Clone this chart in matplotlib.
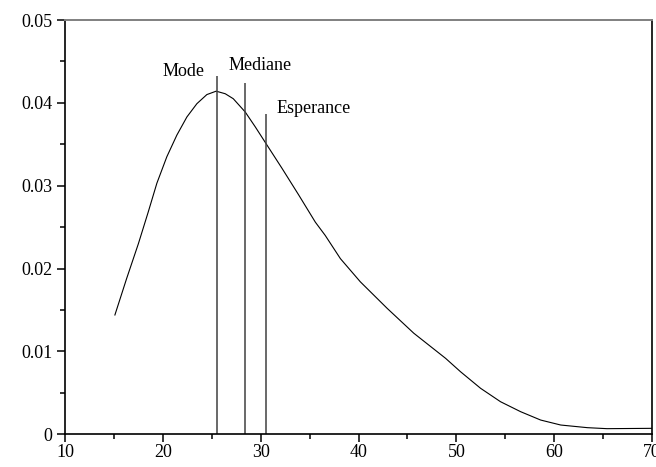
import matplotlib
matplotlib.use("Agg")
import matplotlib.pyplot as plt
from matplotlib.ticker import MultipleLocator

# density curve (x, f(x))
x_vals = [15.1, 16.3, 17.5, 18.5, 19.39, 20.41, 21.43, 22.46, 23.48, 24.5,
          25.45, 26.38, 27.2, 28.42, 29.45, 30.54, 32.18, 33.88, 35.59, 36.6,
          38.15, 40.19, 42.93, 45.65, 48.9, 50.43, 52.48, 54.52, 56.57, 58.62,
          60.67, 63.4, 65.4, 70.0]
y_vals = [0.0144, 0.0188, 0.0230, 0.0268, 0.0303, 0.0335, 0.0361, 0.0383,
          0.0399, 0.0410, 0.04141, 0.0411, 0.0405, 0.0389, 0.0371, 0.0351,
          0.0321, 0.0289, 0.0256, 0.0240, 0.0212, 0.0184, 0.0152, 0.0122,
          0.00917, 0.00755, 0.00555, 0.00393, 0.00273, 0.00172, 0.00112,
          0.0008, 0.00068, 0.00072]

# position indicators: name, x, height of the marker line
stat_names = ["Mode", "Mediane", "Esperance"]
stat_x = [25.5, 28.4, 30.54]
stat_top = [0.0432, 0.0424, 0.0387]
label_xy = [(20.0, 0.0433), (26.75, 0.0440), (31.6, 0.0388)]

plt.rcParams["font.family"] = ["Liberation Serif", "DejaVu Serif"]
plt.rcParams["font.size"] = 13

fig = plt.figure(figsize=(6.56, 4.67), dpi=100)
ax = fig.add_axes([65 / 656, 1 - 434.3 / 467, (652 - 65) / 656, (434.3 - 20) / 467])

ax.plot(x_vals, y_vals, color="black", linewidth=0.8)
ax.vlines(stat_x, 0, stat_top, color="#404040", linewidth=1.1)
for name, (tx, ty) in zip(stat_names, label_xy):
    ax.text(tx, ty, name, ha="left", va="baseline", fontsize=13)

ax.set_xlim(10, 70)
ax.set_ylim(0, 0.05)
ax.xaxis.set_major_locator(MultipleLocator(10))
ax.xaxis.set_minor_locator(MultipleLocator(5))
ax.yaxis.set_major_locator(MultipleLocator(0.01))
ax.yaxis.set_minor_locator(MultipleLocator(0.005))
ax.yaxis.set_major_formatter(lambda v, _: "0" if abs(v) < 1e-9 else f"{v:.2f}")

ax.tick_params(which="major", direction="out", length=6, width=1.1, pad=1)
ax.tick_params(which="minor", direction="out", length=3.5, width=1.1)
ax.tick_params(axis="y", pad=3)
ax.tick_params(top=False, right=False, which="both")

for side in ["left", "bottom", "right"]:
    ax.spines[side].set_color("black")
    ax.spines[side].set_linewidth(1.2)
ax.spines["top"].set_color("#808080")
ax.spines["top"].set_linewidth(1.4)

fig.savefig("out.png", dpi=100)
